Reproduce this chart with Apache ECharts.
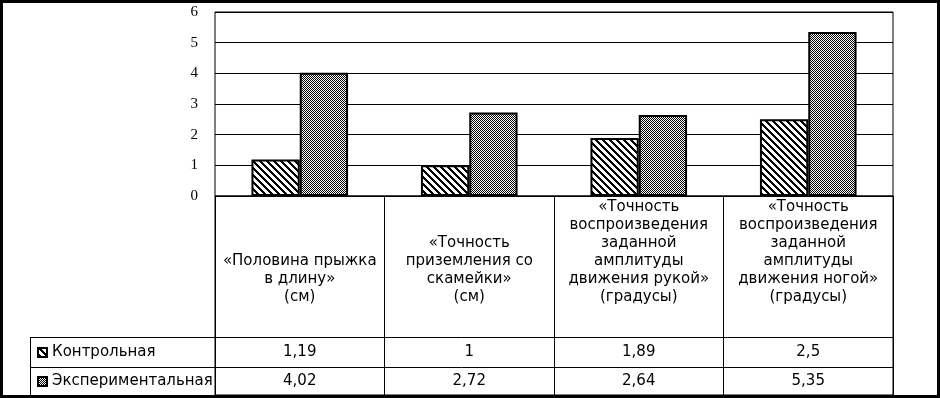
<!DOCTYPE html>
<html>
<head>
<meta charset="utf-8">
<script src="https://cdn.jsdelivr.net/npm/echarts@6/dist/echarts.min.js"></script>
<style>
  html, body { margin: 0; padding: 0; background: #fff; }
  #chart { width: 940px; height: 398px; }
</style>
</head>
<body>
<div id="chart"></div>
<script>
// данные диаграммы
var categories = [
    '«Половина прыжка\nв длину»\n(см)',
    '«Точность\nприземления со\nскамейки»\n(см)',
    '«Точность\nвоспроизведения\nзаданной\nамплитуды\nдвижения рукой»\n(градусы)',
    '«Точность\nвоспроизведения\nзаданной\nамплитуды\nдвижения ногой»\n(градусы)'
];
var seriesNames = ['Контрольная', 'Экспериментальная'];
var controlValues = [1.19, 1, 1.89, 2.5];
var experimentalValues = [4.02, 2.72, 2.64, 5.35];
var yTicks = [0, 1, 2, 3, 4, 5, 6];

// заливки-узоры как в Excel
function makePattern(size, isInk) {
    var c = document.createElement('canvas');
    c.width = size;
    c.height = size;
    var ctx = c.getContext('2d');
    ctx.fillStyle = '#fff';
    ctx.fillRect(0, 0, size, size);
    ctx.fillStyle = '#000';
    for (var x = 0; x < size; x++) {
        for (var y = 0; y < size; y++) {
            if (isInk(x, y)) ctx.fillRect(x, y, 1, 1);
        }
    }
    return { image: c, repeat: 'repeat' };
}
var hatchFill = makePattern(7, function (x, y) { return ((x - y + 7) % 7) < 3; }); // косая штриховка
var dotFill = makePattern(4, function (x, y) { return (x + y) % 2 === 0; });      // мелкая шашечка

function fmt(v) { return String(v).replace('.', ','); }

// геометрия таблицы под графиком
var plotL = 215, plotR = 893, plotT = 12, plotB = 196;
var row1 = 337, row2 = 367, tableB = 395, legL = 30;
var tableFont = 'DejaVu Sans';
var tableSize = 15;

function legendRow(name, top) {
    return {
        orient: 'vertical',
        left: 37,
        top: top,
        padding: 0,
        itemWidth: 9,
        itemHeight: 9,
        icon: 'rect',
        selectedMode: false,
        textStyle: { fontFamily: tableFont, fontSize: tableSize, color: '#000' },
        data: [name]
    };
}

function valueAxis(values, margin) {
    return {
        type: 'category',
        gridIndex: 1,
        position: 'top',
        data: categories,
        axisLine: { show: false },
        axisTick: { show: false },
        axisLabel: {
            interval: 0,
            inside: true,
            margin: margin,
            verticalAlign: 'middle',
            fontFamily: tableFont,
            fontSize: tableSize,
            color: '#000',
            formatter: function (v, i) { return fmt(values[i]); }
        }
    };
}

var myChart = echarts.init(document.getElementById('chart'));
var option = {
    animation: false,
    backgroundColor: '#fff',
    grid: [{
        left: plotL, right: 940 - plotR, top: plotT, height: plotB - plotT,
        show: true, borderColor: '#000', borderWidth: 1, backgroundColor: 'transparent'
    }, {
        left: plotL, right: 940 - plotR, top: plotB, height: tableB - plotB,
        show: true, borderColor: '#000', borderWidth: 1, backgroundColor: 'transparent'
    }],
    legend: [
        legendRow(seriesNames[0], (row1 + row2) / 2 - 7),
        legendRow(seriesNames[1], (row2 + tableB) / 2 - 7)
    ],
    xAxis: [{
        type: 'category',
        gridIndex: 0,
        data: categories,
        axisLine: { show: false },
        axisTick: { show: false },
        axisLabel: { show: false }
    }, {
        type: 'category',
        gridIndex: 1,
        position: 'top',
        data: categories,
        axisLine: { show: false },
        axisTick: { show: false },
        splitLine: { show: true, interval: 0, lineStyle: { color: '#000', width: 1 } },
        axisLabel: {
            interval: 0,
            inside: true,
            margin: 110,
            verticalAlign: 'bottom',
            align: 'center',
            fontFamily: tableFont,
            fontSize: tableSize,
            lineHeight: 18,
            color: '#000'
        }
    },
        valueAxis(controlValues, (row1 + row2) / 2 - plotB),
        valueAxis(experimentalValues, (row2 + tableB) / 2 - plotB)
    ],
    yAxis: [{
        type: 'value',
        gridIndex: 0,
        min: yTicks[0],
        max: yTicks[yTicks.length - 1],
        interval: 1,
        axisLine: { show: false },
        axisTick: { show: false },
        axisLabel: {
            margin: 17,
            fontFamily: 'Liberation Serif',
            fontSize: 15,
            color: '#000'
        },
        splitLine: { show: true, lineStyle: { color: '#000', width: 1 } }
    }, {
        type: 'value',
        gridIndex: 1,
        show: false
    }],
    series: [{
        name: seriesNames[0],
        type: 'bar',
        xAxisIndex: 0,
        yAxisIndex: 0,
        barGap: '0%',
        barCategoryGap: '43%',
        itemStyle: { color: hatchFill, borderColor: '#000', borderWidth: 2 },
        data: controlValues
    }, {
        name: seriesNames[1],
        type: 'bar',
        xAxisIndex: 0,
        yAxisIndex: 0,
        barGap: '0%',
        barCategoryGap: '43%',
        itemStyle: { color: dotFill, borderColor: '#000', borderWidth: 2 },
        data: experimentalValues
    }],
    graphic: [
        // рамка всей картинки
        { type: 'rect', silent: true, shape: { x: 1.5, y: 1.5, width: 937, height: 395 },
          style: { fill: null, stroke: '#000', lineWidth: 3 } },
        // строки таблицы данных
        { type: 'line', silent: true, shape: { x1: legL, y1: row1 + 0.5, x2: plotR, y2: row1 + 0.5 },
          style: { stroke: '#000', lineWidth: 1 } },
        { type: 'line', silent: true, shape: { x1: legL, y1: row2 + 0.5, x2: plotR, y2: row2 + 0.5 },
          style: { stroke: '#000', lineWidth: 1 } },
        { type: 'line', silent: true, shape: { x1: legL + 0.5, y1: row1, x2: legL + 0.5, y2: tableB },
          style: { stroke: '#000', lineWidth: 1 } }
    ]
};
myChart.setOption(option);
</script>
</body>
</html>
